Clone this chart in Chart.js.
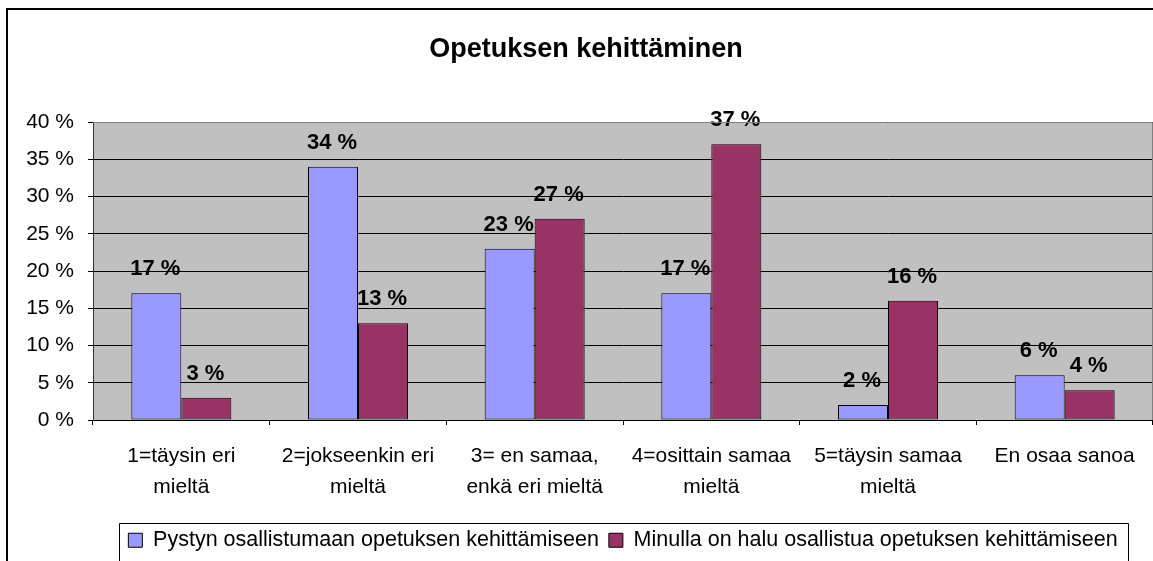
<!DOCTYPE html>
<html>
<head>
<meta charset="utf-8">
<script src="https://cdn.jsdelivr.net/npm/chart.js@4/dist/chart.umd.min.js"></script>
<style>
html,body{margin:0;padding:0;background:#fff;}
#wrap{width:1153px;height:561px;position:relative;}
</style>
</head>
<body>
<div id="wrap"><canvas id="c" width="1153" height="561"></canvas></div>
<script>
const chartTitle = 'Opetuksen kehittäminen';
const categories = [
  ['1=täysin eri', 'mieltä'],
  ['2=jokseenkin eri', 'mieltä'],
  ['3= en samaa,', 'enkä eri mieltä'],
  ['4=osittain samaa', 'mieltä'],
  ['5=täysin samaa', 'mieltä'],
  ['En osaa sanoa']
];
const seriesNames = [
  'Pystyn osallistumaan opetuksen kehittämiseen',
  'Minulla on halu osallistua opetuksen kehittämiseen'
];
const seriesPystyn = [17, 34, 23, 17, 2, 6];
const seriesHalu = [3, 13, 27, 37, 16, 4];
const yTicks = [0, 5, 10, 15, 20, 25, 30, 35, 40];

const FONT = "'Liberation Sans', Arial, sans-serif";

const framePlugin = {
  id: 'frame',
  beforeDraw(chart) {
    const ctx = chart.ctx, a = chart.chartArea;
    ctx.save();
    ctx.fillStyle = '#ffffff';
    ctx.fillRect(0, 0, chart.width, chart.height);
    ctx.strokeStyle = '#000';
    ctx.lineWidth = 2;
    ctx.beginPath();
    ctx.moveTo(7, chart.height + 5);
    ctx.lineTo(7, 9);
    ctx.lineTo(chart.width + 5, 9);
    ctx.stroke();
    ctx.fillStyle = '#C0C0C0';
    ctx.fillRect(a.left, a.top, a.right - a.left, a.bottom - a.top);
    ctx.restore();
  },
  afterDraw(chart) {
    const ctx = chart.ctx, a = chart.chartArea;
    ctx.save();
    ctx.strokeStyle = '#808080';
    ctx.lineWidth = 1;
    ctx.beginPath();
    ctx.moveTo(a.left, a.top + 0.5);
    ctx.lineTo(a.right - 0.5, a.top + 0.5);
    ctx.lineTo(a.right - 0.5, a.bottom);
    ctx.stroke();
    const lg = chart.legend;
    if (lg && lg.legendHitBoxes && lg.legendHitBoxes.length) {
      const hb = lg.legendHitBoxes;
      const left = Math.min(...hb.map(h => h.left)) - 9;
      const right = Math.max(...hb.map(h => h.left + h.width)) + 10;
      const top = lg.top + 3;
      ctx.strokeStyle = '#000';
      ctx.beginPath();
      ctx.moveTo(Math.round(left) + 0.5, chart.height + 5);
      ctx.lineTo(Math.round(left) + 0.5, Math.round(top) + 0.5);
      ctx.lineTo(Math.round(right) + 0.5, Math.round(top) + 0.5);
      ctx.lineTo(Math.round(right) + 0.5, chart.height + 5);
      ctx.stroke();
    }
    ctx.restore();
  }
};

const labelPlugin = {
  id: 'valueLabels',
  afterDatasetsDraw(chart) {
    const ctx = chart.ctx;
    ctx.save();
    ctx.font = 'bold 22px ' + FONT;
    ctx.fillStyle = '#000';
    ctx.textAlign = 'center';
    ctx.textBaseline = 'middle';
    chart.data.datasets.forEach((ds, di) => {
      const meta = chart.getDatasetMeta(di);
      meta.data.forEach((bar, i) => {
        ctx.fillText(ds.data[i] + ' %', bar.x - 1, bar.y - 24);
      });
    });
    ctx.restore();
  }
};

Chart.defaults.color = '#000';
Chart.defaults.font.family = FONT;

new Chart(document.getElementById('c'), {
  type: 'bar',
  data: {
    labels: categories,
    datasets: [
      {
        label: seriesNames[0],
        data: seriesPystyn,
        backgroundColor: '#9999FF',
        borderColor: '#000',
        borderWidth: 1,
        borderSkipped: false
      },
      {
        label: seriesNames[1],
        data: seriesHalu,
        backgroundColor: '#993366',
        borderColor: '#000',
        borderWidth: 1,
        borderSkipped: false
      }
    ]
  },
  options: {
    responsive: false,
    animation: false,
    events: [],
    layout: { padding: { left: 19, right: 0, top: 0, bottom: 0 } },
    datasets: { bar: { barPercentage: 1, categoryPercentage: 0.566 } },
    plugins: {
      title: {
        display: true,
        text: chartTitle,
        font: { size: 27, weight: 'bold', family: FONT },
        color: '#000',
        padding: { top: 33, bottom: 56.6 }
      },
      legend: {
        position: 'bottom',
        fullSize: false,
        labels: {
          font: { size: 21.5, family: FONT },
          color: '#000',
          boxWidth: 14,
          boxHeight: 14,
          padding: 10
        }
      },
      tooltip: { enabled: false }
    },
    scales: {
      x: {
        afterFit(s) { s.height = 99.5; },
        grid: {
          offset: true,
          drawOnChartArea: false,
          drawTicks: true,
          tickLength: 5,
          tickColor: '#000',
          color: '#000'
        },
        border: { color: '#000', width: 1 },
        ticks: {
          font: { size: 21, family: FONT, lineHeight: 1.5 },
          color: '#000',
          padding: 15,
          maxRotation: 0,
          autoSkip: false
        }
      },
      y: {
        min: 0,
        max: 40,
        afterFit(s) { s.width = 74; },
        afterBuildTicks(s) { s.ticks = yTicks.map(v => ({ value: v })); },
        grid: {
          color: '#000',
          tickColor: '#000',
          tickLength: 5,
          drawTicks: true
        },
        border: { color: '#333', width: 1 },
        ticks: {
          font: { size: 21, family: FONT },
          color: '#000',
          padding: 14,
          callback: v => v + ' %'
        }
      }
    }
  },
  plugins: [framePlugin, labelPlugin]
});
</script>
</body>
</html>
